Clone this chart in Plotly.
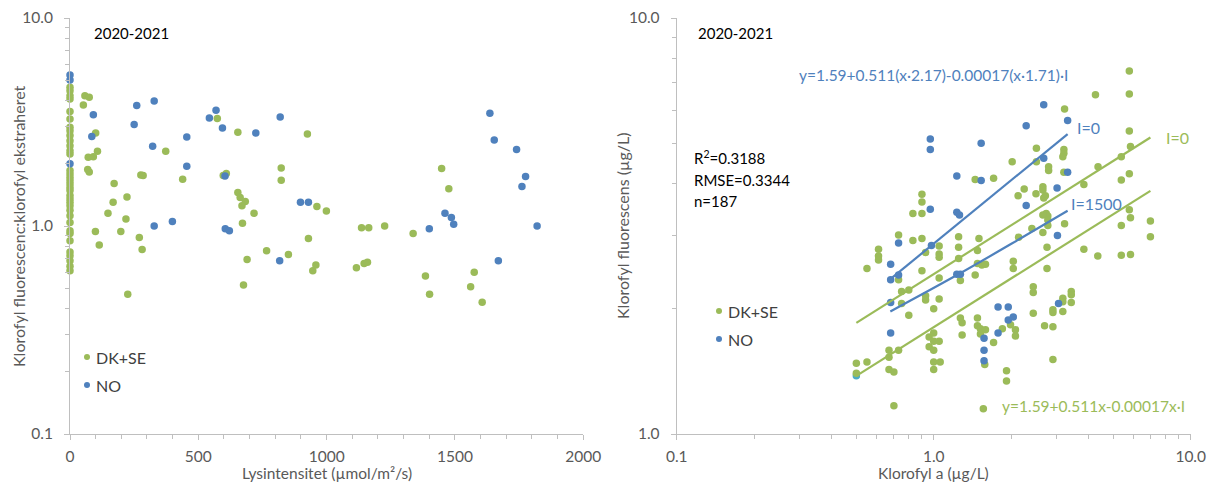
import plotly.graph_objects as go

W, H = 1214, 482
GREEN = "#9BBB59"
BLUE = "#4F81BD"
CYAN = "#4BACC6"
AXC = "#BFBFBF"
TXT = "#595959"
FONT = "Lato"

# ---------------- Left panel: ratio vs light intensity ----------------
left_dkse_light = [0]*35 + [
    58, 75, 52, 100, 107, 71, 91, 69, 75, 172, 168, 148, 222, 218, 99, 198, 114, 270, 281, 225,
    276, 285, 373, 439, 574, 654, 597, 609, 654, 663, 683, 670, 717, 672, 690, 676, 766, 851,
    823, 823, 925, 929, 962, 946, 958, 999, 1136, 1164, 1226, 1116, 1146, 1159, 1337, 1385,
    1401, 1448, 1476, 1575, 1561, 1606]
left_dkse_ratio = [
    4.64, 4.47, 4.23, 4.08, 3.55, 3.27, 2.98, 2.87, 2.72, 2.57, 2.43, 2.30, 2.22, 1.85, 1.78,
    1.71, 1.65, 1.59, 1.53, 1.48, 1.40, 1.35, 1.30, 1.25, 1.19, 1.12, 1.04, 0.95, 0.92, 0.85,
    0.75, 0.72, 0.68, 0.64, 0.61,
    4.23, 4.16, 3.82, 2.80, 2.29, 2.14, 2.15, 1.87, 1.82, 1.60, 1.30, 1.15, 1.38, 1.08, 0.94,
    0.94, 0.81, 0.88, 0.77, 0.47, 1.76, 1.75, 2.29, 1.68, 3.29, 2.82, 1.75, 1.79, 1.45, 1.37,
    1.31, 1.25, 1.15, 1.03, 0.69, 0.52, 0.76, 0.73, 1.90, 1.66, 2.77, 0.87, 1.24, 0.61, 0.65,
    1.18, 0.98, 0.98, 1.00, 0.63, 0.66, 0.67, 0.92, 0.575, 0.47, 1.89, 1.51, 0.60, 0.51, 0.43]

left_no_light = [0, 0, 0, 91, 85, 260, 250, 328, 322, 328, 399, 455, 455, 543, 569, 594, 604,
                 605, 621, 724, 819, 817, 898, 929, 1400, 1461, 1486, 1495, 1636, 1653, 1740,
                 1775, 1761, 1820, 1669]
left_no_ratio = [5.32, 5.03, 1.99, 3.43, 2.69, 3.80, 3.08, 3.99, 2.42, 1.00, 1.05, 2.68, 1.94,
                 3.31, 3.60, 2.96, 1.74, 0.97, 0.95, 2.80, 3.34, 0.68, 1.30, 1.30, 0.97, 1.15,
                 1.10, 1.02, 3.48, 2.59, 2.33, 1.73, 1.55, 1.00, 0.68]

# ---------------- Right panel: fluorescence vs chlorophyll a ----------------
right_dkse_chla = [
    5.77, 4.26, 5.77, 3.23, 5.77, 2.51, 3.21, 5.83, 3.21, 3.18, 5.37, 2.02, 2.51, 2.80, 2.80,
    3.21, 4.36, 5.77, 5.37, 3.84, 1.71, 1.45, 2.25, 2.13, 2.50, 2.66, 2.66, 2.72, 2.68, 2.74,
    2.78, 2.66, 2.78, 2.78, 3.23, 2.66, 2.41, 2.14, 2.76, 2.76, 2.04, 2.04, 1.50, 1.25, 1.25,
    1.25, 1.48, 1.48, 1.54, 1.59, 1.45, 1.05, 1.05, 1.05, 1.05, 0.90, 0.90, 0.90, 0.83, 0.83,
    0.90, 0.93, 0.90, 0.73, 0.61, 0.61, 0.61, 0.55, 0.73, 0.75, 0.80, 0.93, 0.93, 1.05, 0.75,
    0.80, 1.00, 1.27, 1.27, 1.29, 1.29, 1.48, 1.48, 1.52, 1.59, 1.52, 0.96, 0.96, 1.00, 1.00,
    1.00, 1.05, 1.00, 1.00, 1.06, 1.71, 1.85, 1.92, 1.92, 2.08, 2.08, 1.99, 2.44, 2.44, 2.44,
    2.70, 2.91, 2.91, 2.91, 2.91, 3.18, 3.18, 3.18, 3.43, 3.43, 3.43, 3.84, 4.35, 5.37, 5.83,
    5.37, 5.83, 5.77, 6.97, 6.97, 1.56, 1.58, 0.67, 0.67, 0.73, 0.67, 0.70, 0.70, 0.50, 0.55,
    0.50]
right_dkse_fluor = [
    7.46, 6.54, 6.57, 6.04, 5.35, 4.86, 4.83, 4.91, 4.73, 4.64, 4.64, 4.51, 4.51, 4.39, 4.30,
    4.26, 4.39, 4.22, 4.08, 3.98, 4.12, 4.09, 3.88, 3.74, 3.78, 3.93, 3.86, 3.74, 3.69, 3.39,
    3.34, 3.36, 3.27, 3.17, 3.20, 3.05, 3.12, 2.97, 2.81, 2.50, 2.60, 2.50, 2.95, 2.98, 2.81,
    2.64, 2.76, 2.57, 2.55, 2.56, 2.41, 2.83, 2.71, 2.66, 2.37, 3.77, 3.61, 3.39, 3.39, 2.92,
    2.95, 2.73, 2.47, 3.01, 2.78, 2.68, 2.62, 2.50, 2.35, 2.20, 2.22, 2.15, 2.10, 2.11, 2.06,
    1.93, 2.00, 2.34, 1.90, 1.85, 1.73, 1.90, 1.82, 1.79, 1.78, 1.74, 1.71, 1.62, 1.75, 1.67,
    1.59, 1.67, 1.49, 1.43, 1.49, 1.66, 1.79, 1.42, 1.34, 1.78, 1.72, 1.83, 2.26, 2.19, 1.95,
    1.82, 1.81, 1.51, 1.99, 1.96, 2.12, 2.08, 1.97, 2.20, 2.16, 2.07, 2.78, 2.68, 2.69, 2.70,
    3.17, 3.31, 3.46, 3.25, 2.98, 1.15, 1.47, 1.59, 1.53, 1.59, 1.43, 1.41, 1.17, 1.48, 1.49,
    1.40]

right_no_chla = [2.68, 2.29, 3.32, 1.53, 0.97, 0.97, 1.23, 1.53, 2.68, 3.32, 3.02, 2.29, 0.97,
                 1.23, 1.26, 0.98, 1.23, 1.27, 3.03, 1.78, 1.95, 1.95, 2.04, 1.78, 1.57, 1.57,
                 1.57, 3.06, 0.73, 0.68, 0.73, 0.68, 0.68, 0.68]
right_no_fluor = [6.19, 5.51, 5.67, 5.00, 5.12, 4.83, 4.17, 4.07, 4.60, 4.26, 3.90, 3.54, 3.47,
                  3.41, 3.36, 2.84, 2.42, 2.42, 3.00, 2.02, 2.02, 1.88, 1.91, 1.75, 1.70, 1.59,
                  1.50, 2.06, 2.88, 2.56, 2.41, 2.35, 2.07, 1.75]

right_other_chla = [0.50]
right_other_fluor = [1.38]

# model lines
line_dkse_i0_x = [0.50, 6.97]
line_dkse_i0_y = [1.85, 5.16]
line_dkse_i1500_x = [0.50, 6.97]
line_dkse_i1500_y = [1.38, 3.84]
line_no_i0_x = [0.68, 3.32]
line_no_i0_y = [2.36, 5.26]
line_no_i1500_x = [0.678, 1.232, 2.174, 3.32]
line_no_i1500_y = [1.97, 2.41, 2.95, 3.44]

series_names = ["DK+SE", "NO"]
series_colors = [GREEN, BLUE]

fig = go.Figure()

mk = dict(size=7.5, line=dict(width=0))
fig.add_trace(go.Scatter(x=left_dkse_light, y=left_dkse_ratio, mode="markers", name="DK+SE",
                         marker=dict(color=GREEN, **mk), xaxis="x", yaxis="y", cliponaxis=False))
fig.add_trace(go.Scatter(x=left_no_light, y=left_no_ratio, mode="markers", name="NO",
                         marker=dict(color=BLUE, **mk), xaxis="x", yaxis="y", cliponaxis=False))

fig.add_trace(go.Scatter(x=right_other_chla, y=right_other_fluor, mode="markers",
                         marker=dict(color=CYAN, **mk), xaxis="x2", yaxis="y2"))
fig.add_trace(go.Scatter(x=right_dkse_chla, y=right_dkse_fluor, mode="markers", name="DK+SE",
                         marker=dict(color=GREEN, **mk), xaxis="x2", yaxis="y2"))
fig.add_trace(go.Scatter(x=right_no_chla, y=right_no_fluor, mode="markers", name="NO",
                         marker=dict(color=BLUE, **mk), xaxis="x2", yaxis="y2"))

for lx, ly, c in [(line_dkse_i0_x, line_dkse_i0_y, GREEN), (line_dkse_i1500_x, line_dkse_i1500_y, GREEN),
                  (line_no_i0_x, line_no_i0_y, BLUE), (line_no_i1500_x, line_no_i1500_y, BLUE)]:
    fig.add_trace(go.Scatter(x=lx, y=ly, mode="lines", line=dict(color=c, width=2.2, shape="spline"),
                             xaxis="x2", yaxis="y2", hoverinfo="skip"))

# legend keys drawn on a full-page pixel overlay axis
for (lx0, ly0) in [(87, 357), (719, 311)]:
    for i, (nm, col) in enumerate(zip(series_names, series_colors)):
        fig.add_trace(go.Scatter(x=[lx0], y=[ly0 + 28 * i], mode="markers", name=nm,
                                 marker=dict(color=col, size=6, line=dict(width=0)),
                                 xaxis="x3", yaxis="y3", hoverinfo="skip"))
        fig.add_annotation(text=nm, x=lx0 + 7, y=ly0 + 28 * i, xref="x3", yref="y3",
                           xanchor="left", yanchor="middle", showarrow=False,
                           font=dict(family=FONT, size=16, color="#404040"))

ydom = [48 / H, 1 - 18 / H]
common = dict(showgrid=False, zeroline=False, showline=True, linecolor=AXC, linewidth=1,
              automargin=False,
              ticks="outside", ticklen=5, tickcolor=AXC, tickfont=dict(family=FONT, size=15.5, color=TXT))

fig.update_layout(
    width=W, height=H, margin=dict(l=0, r=0, t=0, b=0, autoexpand=False),
    paper_bgcolor="white", plot_bgcolor="rgba(0,0,0,0)",
    font=dict(family=FONT, size=15, color=TXT),
    showlegend=False,
    xaxis=dict(domain=[70 / W, 583.3 / W], range=[0, 2000], tickvals=[0, 500, 1000, 1500, 2000],
               ticklabelstandoff=3,
               minor=dict(ticks="outside", ticklen=4, tickcolor=AXC, dtick=100), anchor="y", **common),
    yaxis=dict(domain=ydom, type="log", range=[-1, 1], tickvals=[0.1, 1, 10], ticktext=["0.1", "1.0", "10.0"],
               ticklabelstandoff=8,
               minor=dict(ticks="outside", ticklen=4, tickcolor=AXC, dtick="D1"), anchor="x", **common),
    xaxis2=dict(domain=[676.7 / W, 1190.7 / W], type="log", range=[-1, 1], tickvals=[0.1, 1, 10],
                ticktext=["0.1", "1.0", "10.0"], ticklabelstandoff=3,
                minor=dict(ticks="outside", ticklen=4, tickcolor=AXC, dtick="D1"), anchor="y2", **common),
    yaxis2=dict(domain=ydom, type="log", range=[0, 1], tickvals=[1, 10], ticktext=["1.0", "10.0"],
                ticklabelstandoff=8,
                minor=dict(ticks="outside", ticklen=4, tickcolor=AXC, dtick="D1"), anchor="x2", **common),
    xaxis3=dict(domain=[0, 1], range=[0, W], visible=False, fixedrange=True, anchor="y3"),
    yaxis3=dict(domain=[0, 1], range=[H, 0], visible=False, fixedrange=True, anchor="x3"),
)


def ann(text, px, py, color="black", xanchor="left", size=15, angle=0):
    fig.add_annotation(text=text, x=px / W, y=1 - py / H, xref="paper", yref="paper",
                       xanchor=xanchor, yanchor="middle", showarrow=False, textangle=angle,
                       font=dict(family=FONT, size=size, color=color))


ann("2020-2021", 92, 33)
ann("2020-2021", 696, 33)
ann("y=1.59+0.511(x·2.17)-0.00017(x·1.71)·I", 797, 75, BLUE, size=15.5)
ann("I=0", 1075, 128, BLUE, size=16)
ann("I=0", 1164, 137, GREEN, size=16)
ann("I=1500", 1069, 203, BLUE, size=16)
ann("R<sup>2</sup>=0.3188", 692, 158)
ann("RMSE=0.3344", 692, 180)
ann("n=187", 692, 201)
ann("y=1.59+0.511x-0.00017x·I", 1000, 406, GREEN, size=15.5)

ann("Klorofyl fluorescenc:klorofyl ekstraheret", 18, 226, TXT, "center", 16, -90)
ann("Lysintensitet (µmol/m²/s)", 327, 473, TXT, "center", 15.5)
ann("Klorofyl fluorescens (µg/L)", 622, 226, TXT, "center", 16, -90)
ann("Klorofyl a (µg/L)", 933, 473, TXT, "center", 15.5)

fig.write_html("out.html")
